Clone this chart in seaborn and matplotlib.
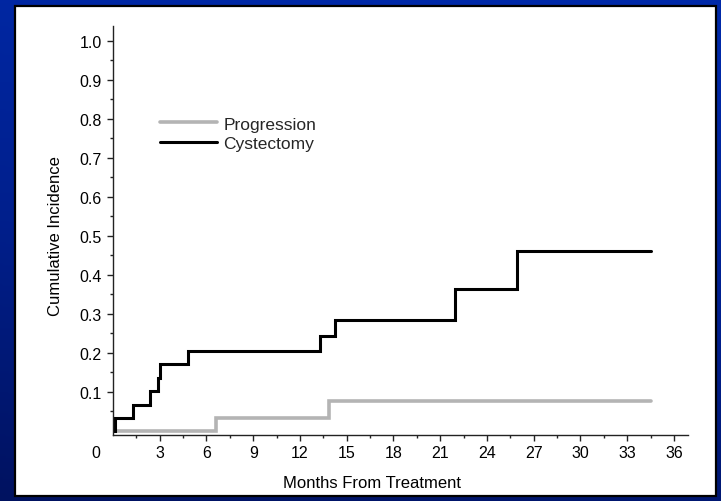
import numpy as np
import pandas as pd
import matplotlib
matplotlib.use("Agg")
import matplotlib.pyplot as plt
from matplotlib.patches import Rectangle
from matplotlib.colors import LinearSegmentedColormap
import seaborn as sns

# Cumulative incidence step curves (months, incidence after the step)
cyst_months = [0.0, 0.1, 1.3, 2.35, 2.9, 3.03, 4.8, 13.3, 14.27, 21.95, 25.95, 34.5]
cyst_values = [0.0, 0.033, 0.067, 0.102, 0.136, 0.171, 0.205, 0.244, 0.285, 0.364, 0.461, 0.461]
prog_months = [0.0, 6.6, 13.85, 34.5]
prog_values = [0.0, 0.033, 0.075, 0.075]

series_names = ["Progression", "Cystectomy"]
series_colors = ["#b4b4b4", "#000000"]

x_ticks = [3, 6, 9, 12, 15, 18, 21, 24, 27, 30, 33, 36]
y_ticks = [0.1, 0.2, 0.3, 0.4, 0.5, 0.6, 0.7, 0.8, 0.9, 1.0]

df = pd.concat([
    pd.DataFrame({"month": prog_months, "incidence": prog_values, "event": "Progression"}),
    pd.DataFrame({"month": cyst_months, "incidence": cyst_values, "event": "Cystectomy"}),
], ignore_index=True)

sns.set_theme(style="ticks")
plt.rcParams["font.family"] = ["Liberation Sans", "DejaVu Sans"]

FS_TICK = 11.5
FS_LABEL = 12
FS_LEG = 12.5
W, H = 721, 502
fig = plt.figure(figsize=(W / 100, H / 100), dpi=100)

# blue slide background
bg = fig.add_axes([0, 0, 1, 1], zorder=-10)
cmap = LinearSegmentedColormap.from_list("slide", ["#001260", "#001f8c", "#0029a8"])
yy = np.linspace(0, 1, 256)[:, None]
xx = np.linspace(0, 1, 256)[None, :]
grad = np.clip(yy * 0.85 + xx * 0.2 + 0.05, 0, 1)
bg.imshow(grad, cmap=cmap, aspect="auto", origin="lower", extent=[0, 1, 0, 1])
bg.set_axis_off()

# white panel
fig.patches.append(Rectangle((15 / W, 5 / H), (716 - 15) / W, (495 - 5) / H,
                             transform=fig.transFigure, facecolor="white",
                             edgecolor="black", linewidth=1.6, zorder=-5))

ax = fig.add_axes([113 / W, 1 - 436 / H, (688 - 113) / W, (436 - 27) / H])
ax.set_facecolor("none")

sns.lineplot(data=df, x="month", y="incidence", hue="event",
             hue_order=series_names, palette=series_colors,
             estimator=None, sort=False, drawstyle="steps-post",
             linewidth=2.0, ax=ax)
for line, lw in zip(ax.get_lines(), [2.6, 2.2]):
    line.set_linewidth(lw)
    line.set_solid_joinstyle("miter")

ax.set_xlim(0, 36.9)
ax.set_ylim(-0.011, 1.038)
ax.set_xticks(x_ticks)
ax.set_xticks([t - 1.5 for t in x_ticks], minor=True)
ax.set_yticks(y_ticks)
ax.set_yticklabels([f"{v:.1f}" for v in y_ticks])
ax.set_yticks([v - 0.05 for v in y_ticks], minor=True)

for side in ["top", "right"]:
    ax.spines[side].set_visible(False)
for side in ["left", "bottom"]:
    ax.spines[side].set_linewidth(1.0)
    ax.spines[side].set_color("#222222")

ax.tick_params(axis="both", which="major", direction="out", length=4, width=1.0,
               color="#222222", labelsize=FS_TICK, labelcolor="black")
ax.tick_params(axis="both", which="minor", direction="out", length=2.5, width=1.0,
               color="#222222")
ax.tick_params(axis="x", which="major", pad=3.0)
ax.tick_params(axis="y", which="major", pad=4.0)

# origin label placed at the corner, left of the axis
ax.annotate("0", xy=(0, 0), xycoords=("data", "axes fraction"),
            xytext=(-12.5, -7.0), textcoords="offset points",
            ha="center", va="top", fontsize=FS_TICK, color="black")

ax.set_xlabel("Months From Treatment", fontsize=FS_LABEL, color="black")
ax.set_ylabel("Cumulative Incidence", fontsize=FS_LABEL, color="black")
ax.xaxis.set_label_coords(0.451, -0.099)
ax.yaxis.set_label_coords(-0.087, 0.49)

leg = ax.legend(loc="upper left", bbox_to_anchor=(0.082, 0.779), frameon=False,
                fontsize=FS_LEG, handlelength=3.3, handletextpad=0.33,
                labelspacing=0.24, borderpad=0, borderaxespad=0)
for h, lw in zip(leg.get_lines(), [2.6, 2.2]):
    h.set_linewidth(lw)

fig.savefig("out.png", dpi=100)
